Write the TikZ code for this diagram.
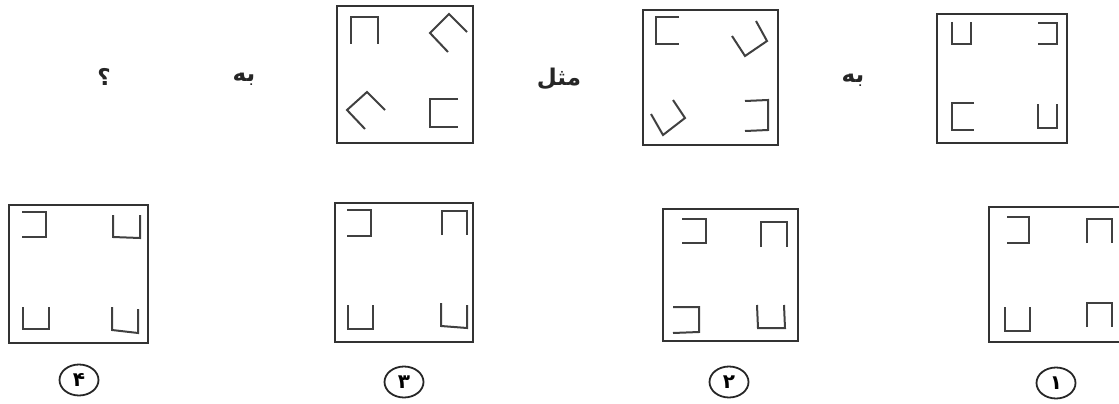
\documentclass[tikz,border=0pt]{standalone}
\usepackage{fontspec}
\usepackage{xcolor}
\usepackage{tikz}
\usetikzlibrary{positioning, shapes.geometric}
\newfontfamily\arabicfont[Script=Arabic]{DejaVu Sans}
\TeXXeTstate=1

\begin{document}
\begin{tikzpicture}[
    x=1pt, y=-1pt,
    frame/.style={draw=black!80, line width=1.5pt},
    hook/.style={draw=black!75, line width=2pt, line join=miter},
    word/.style={font=\arabicfont\bfseries\fontsize{23}{26}\selectfont, text=black!85},
    num/.style={ellipse, draw=black!85, line width=1.8pt,
                minimum width=39pt, minimum height=31pt, inner sep=0pt,
                font=\arabicfont\bfseries\fontsize{20}{22}\selectfont}
  ]
  \useasboundingbox (0,0) rectangle (1119,404);

  % question row: first pair
  \draw[frame] (937,14) rectangle (1067,143);
  \draw[hook] (952,22) -- (952,44) -- (971,44) -- (971,22);
  \draw[hook] (1038,23) -- (1057,23) -- (1057,44) -- (1038,44);
  \draw[hook] (974,103) -- (952,103) -- (952,130) -- (974,130);
  \draw[hook] (1038,104) -- (1038,128) -- (1057,128) -- (1057,104);

  \node[word] (be1) at (853,80) {\beginR به\endR};

  \draw[frame] (643,10) rectangle (778,145);
  \draw[hook] (679,17) -- (656,17) -- (656,44) -- (679,44);
  \draw[hook] (756,21) -- (767,41) -- (745,56) -- (732,36);
  \draw[hook] (673,100) -- (685,118) -- (663,135) -- (651,114);
  \draw[hook] (745,101) -- (768,100) -- (768,130) -- (745,131);

  \node[word] (mesl) at (559,79) {\beginR مثل\endR};

  % question row: second pair
  \draw[frame] (337,6) rectangle (473,143);
  \draw[hook] (351,44) -- (351,17) -- (378,17) -- (378,44);
  \draw[hook] (467,32) -- (449,14) -- (430,33) -- (448,52);
  \draw[hook] (385,110) -- (367,92) -- (347,110) -- (365,129);
  \draw[hook] (458,99) -- (430,99) -- (430,127) -- (458,127);

  \node[word] (be2) at (244,79) {\beginR به\endR};
  \node[word] (ask) at (104,77) {؟};

  % answer choices
  \draw[frame] (989,207) rectangle (1124,342);
  \draw[hook] (1007,217) -- (1029,217) -- (1029,243) -- (1007,243);
  \draw[hook] (1087,243) -- (1087,219) -- (1112,219) -- (1112,243);
  \draw[hook] (1005,307) -- (1005,331) -- (1030,331) -- (1030,307);
  \draw[hook] (1087,327) -- (1087,303) -- (1112,303) -- (1112,327);
  \node[num] (opt1) at (1056,383) {۱};

  \draw[frame] (663,209) rectangle (798,341);
  \draw[hook] (682,219) -- (706,219) -- (706,243) -- (682,243);
  \draw[hook] (761,247) -- (761,222) -- (787,222) -- (787,247);
  \draw[hook] (673,307) -- (699,307) -- (699,332) -- (673,333);
  \draw[hook] (757,305) -- (758,328) -- (785,328) -- (784,305);
  \node[num] (opt2) at (729,382) {۲};

  \draw[frame] (335,203) rectangle (473,342);
  \draw[hook] (347,210) -- (371,210) -- (371,236) -- (347,236);
  \draw[hook] (442,235) -- (442,211) -- (467,211) -- (467,235);
  \draw[hook] (348,305) -- (348,329) -- (373,329) -- (373,305);
  \draw[hook] (441,303) -- (441,326) -- (467,328) -- (467,305);
  \node[num] (opt3) at (404,382) {۳};

  \draw[frame] (9,205) rectangle (148,343);
  \draw[hook] (22,212) -- (46,212) -- (46,237) -- (22,237);
  \draw[hook] (113,215) -- (113,237) -- (140,238) -- (140,215);
  \draw[hook] (23,307) -- (23,329) -- (49,329) -- (49,307);
  \draw[hook] (112,307) -- (112,330) -- (138,333) -- (138,309);
  \node[num] (opt4) at (79,380) {۴};
\end{tikzpicture}
\end{document}
